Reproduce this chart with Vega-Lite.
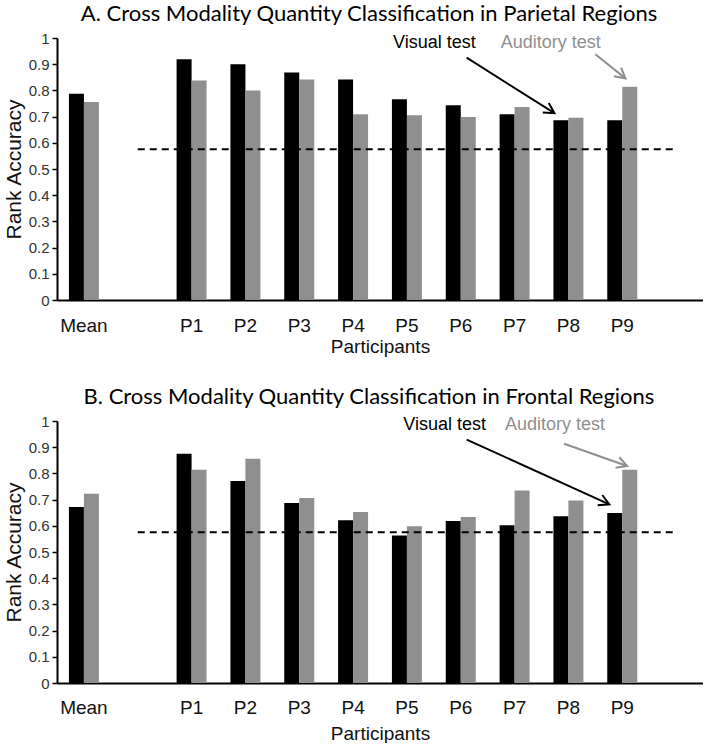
{
  "$schema": "https://vega.github.io/schema/vega-lite/v6.json",
  "background": "white",
  "padding": {"left": 3, "top": 3, "right": 0, "bottom": 0},
  "config": {
    "view": {"stroke": null},
    "axis": {"grid": false},
    "axisY": {"tickCount": 10, "format": ".1~f", "domainColor": "black", "domainWidth": 2, "tickColor": "black", "tickWidth": 1.5, "tickSize": 5, "labelFont": "Liberation Sans Narrow, Liberation Sans", "labelFontSize": 15, "labelColor": "#333", "labelPadding": 3, "titleFont": "Liberation Sans", "titleFontSize": 21, "titleFontWeight": "normal", "titleColor": "#111", "titlePadding": 4}
  },
  "spacing": 30,
  "datasets": {
    "bars": [
      {"panel": "A", "group": "Mean", "test": "Visual", "value": 0.787},
      {"panel": "A", "group": "Mean", "test": "Auditory", "value": 0.756},
      {"panel": "A", "group": "P1", "test": "Visual", "value": 0.919},
      {"panel": "A", "group": "P1", "test": "Auditory", "value": 0.838},
      {"panel": "A", "group": "P2", "test": "Visual", "value": 0.900},
      {"panel": "A", "group": "P2", "test": "Auditory", "value": 0.800},
      {"panel": "A", "group": "P3", "test": "Visual", "value": 0.868},
      {"panel": "A", "group": "P3", "test": "Auditory", "value": 0.842},
      {"panel": "A", "group": "P4", "test": "Visual", "value": 0.842},
      {"panel": "A", "group": "P4", "test": "Auditory", "value": 0.709},
      {"panel": "A", "group": "P5", "test": "Visual", "value": 0.766},
      {"panel": "A", "group": "P5", "test": "Auditory", "value": 0.705},
      {"panel": "A", "group": "P6", "test": "Visual", "value": 0.743},
      {"panel": "A", "group": "P6", "test": "Auditory", "value": 0.698},
      {"panel": "A", "group": "P7", "test": "Visual", "value": 0.709},
      {"panel": "A", "group": "P7", "test": "Auditory", "value": 0.737},
      {"panel": "A", "group": "P8", "test": "Visual", "value": 0.686},
      {"panel": "A", "group": "P8", "test": "Auditory", "value": 0.696},
      {"panel": "A", "group": "P9", "test": "Visual", "value": 0.686},
      {"panel": "A", "group": "P9", "test": "Auditory", "value": 0.814},
      {"panel": "B", "group": "Mean", "test": "Visual", "value": 0.672},
      {"panel": "B", "group": "Mean", "test": "Auditory", "value": 0.722},
      {"panel": "B", "group": "P1", "test": "Visual", "value": 0.875},
      {"panel": "B", "group": "P1", "test": "Auditory", "value": 0.814},
      {"panel": "B", "group": "P2", "test": "Visual", "value": 0.771},
      {"panel": "B", "group": "P2", "test": "Auditory", "value": 0.856},
      {"panel": "B", "group": "P3", "test": "Visual", "value": 0.687},
      {"panel": "B", "group": "P3", "test": "Auditory", "value": 0.706},
      {"panel": "B", "group": "P4", "test": "Visual", "value": 0.621},
      {"panel": "B", "group": "P4", "test": "Auditory", "value": 0.653},
      {"panel": "B", "group": "P5", "test": "Visual", "value": 0.563},
      {"panel": "B", "group": "P5", "test": "Auditory", "value": 0.598},
      {"panel": "B", "group": "P6", "test": "Visual", "value": 0.618},
      {"panel": "B", "group": "P6", "test": "Auditory", "value": 0.634},
      {"panel": "B", "group": "P7", "test": "Visual", "value": 0.602},
      {"panel": "B", "group": "P7", "test": "Auditory", "value": 0.735},
      {"panel": "B", "group": "P8", "test": "Visual", "value": 0.636},
      {"panel": "B", "group": "P8", "test": "Auditory", "value": 0.697},
      {"panel": "B", "group": "P9", "test": "Visual", "value": 0.649},
      {"panel": "B", "group": "P9", "test": "Auditory", "value": 0.814}
    ],
    "chance": [
      {"panel": "A", "xs": 1.5, "xe": 11.5, "y": 0.575},
      {"panel": "B", "xs": 1.5, "xe": 11.5, "y": 0.575}
    ],
    "labels": [
      {"panel": "A", "test": "Visual", "text": "Visual test", "x": 7.01, "y": 0.982},
      {"panel": "A", "test": "Auditory", "text": "Auditory test", "x": 9.17, "y": 0.982},
      {"panel": "B", "test": "Visual", "text": "Visual test", "x": 7.2, "y": 0.983},
      {"panel": "B", "test": "Auditory", "text": "Auditory test", "x": 9.25, "y": 0.983}
    ],
    "arrows": [
      {"panel": "A", "test": "Visual", "x": 7.61, "y": 0.925, "x2": 9.24, "y2": 0.713},
      {"panel": "A", "test": "Auditory", "x": 10.0, "y": 0.938, "x2": 10.56, "y2": 0.846},
      {"panel": "B", "test": "Visual", "x": 7.61, "y": 0.929, "x2": 10.26, "y2": 0.682},
      {"panel": "B", "test": "Auditory", "x": 9.42, "y": 0.913, "x2": 10.59, "y2": 0.828}
    ]
  },
  "vconcat": [
    {
      "width": 646,
      "height": 262,
      "title": {"text": "A. Cross Modality Quantity Classification in Parietal Regions", "font": "Lato", "fontSize": 22, "fontWeight": "normal", "color": "black", "frame": "group", "dx": -11, "offset": 5},
      "resolve": {"scale": {"x": "independent"}},
      "layer": [
        {
          "data": {"name": "bars"},
          "transform": [{"filter": "datum.panel === 'A'"}],
          "mark": {"type": "bar"},
          "encoding": {
            "x": {"field": "group", "type": "nominal", "sort": null,
              "scale": {"domain": ["Mean", "_1", "P1", "P2", "P3", "P4", "P5", "P6", "P7", "P8", "P9", "_2"], "paddingInner": 0.443, "paddingOuter": 0.2215},
              "axis": {"title": "Participants", "labelExpr": "indexof(datum.label, '_') == 0 ? '' : datum.label", "ticks": false, "labelAngle": 0, "domainColor": "black", "domainWidth": 2, "labelFont": "Liberation Sans", "labelFontSize": 19, "labelColor": "#111", "labelPadding": 16, "titleFont": "Liberation Sans", "titleFontSize": 19, "titleFontWeight": "normal", "titleColor": "#111", "titlePadding": 2}},
            "xOffset": {"field": "test", "type": "nominal", "sort": null, "scale": {"domain": ["Visual", "Auditory"], "paddingInner": 0, "paddingOuter": 0}},
            "y": {"field": "value", "type": "quantitative", "scale": {"domain": [0, 1], "nice": false}, "title": "Rank Accuracy"},
            "color": {"field": "test", "type": "nominal", "scale": {"domain": ["Visual", "Auditory"], "range": ["#000000", "#8f8f8f"]}, "legend": null}
          }
        },
        {
          "layer": [
            {
              "data": {"name": "chance"},
              "transform": [{"filter": "datum.panel === 'A'"}],
              "mark": {"type": "rule", "color": "black", "strokeWidth": 2, "strokeDash": [7, 5]},
              "encoding": {
                "x": {"field": "xs", "type": "quantitative", "scale": {"domain": [0, 12], "nice": false, "zero": false}, "axis": null},
                "x2": {"field": "xe"},
                "y": {"field": "y", "type": "quantitative", "title": "Rank Accuracy"}
              }
            },
            {
              "data": {"name": "labels"},
              "transform": [{"filter": "datum.panel === 'A'"}],
              "mark": {"type": "text", "font": "Liberation Sans", "fontSize": 18, "align": "center", "baseline": "middle"},
              "encoding": {
                "x": {"field": "x", "type": "quantitative", "scale": {"domain": [0, 12], "nice": false, "zero": false}, "axis": null},
                "y": {"field": "y", "type": "quantitative", "title": "Rank Accuracy"},
                "text": {"field": "text"},
                "color": {"field": "test", "type": "nominal", "legend": null}
              }
            },
            {
              "data": {"name": "arrows"},
              "transform": [{"filter": "datum.panel === 'A'"}],
              "mark": {"type": "rule", "strokeWidth": 2},
              "encoding": {
                "x": {"field": "x", "type": "quantitative", "scale": {"domain": [0, 12], "nice": false, "zero": false}, "axis": null},
                "y": {"field": "y", "type": "quantitative", "title": "Rank Accuracy"},
                "x2": {"field": "x2"},
                "y2": {"field": "y2"},
                "color": {"field": "test", "type": "nominal", "legend": null}
              }
            },
            {
              "data": {"name": "arrows"},
              "transform": [{"filter": "datum.panel === 'A' && datum.test === 'Visual'"}],
              "mark": {"type": "point", "shape": "M-1,-0.55L0,0L-1,0.55", "filled": false, "strokeWidth": 2, "size": 420, "angle": 32, "opacity": 1},
              "encoding": {
                "x": {"field": "x2", "type": "quantitative", "scale": {"domain": [0, 12], "nice": false, "zero": false}, "axis": null},
                "y": {"field": "y2", "type": "quantitative", "title": "Rank Accuracy"},
                "color": {"field": "test", "type": "nominal", "legend": null}
              }
            },
            {
              "data": {"name": "arrows"},
              "transform": [{"filter": "datum.panel === 'A' && datum.test === 'Auditory'"}],
              "mark": {"type": "point", "shape": "M-1,-0.55L0,0L-1,0.55", "filled": false, "strokeWidth": 2, "size": 420, "angle": 39, "opacity": 1},
              "encoding": {
                "x": {"field": "x2", "type": "quantitative", "scale": {"domain": [0, 12], "nice": false, "zero": false}, "axis": null},
                "y": {"field": "y2", "type": "quantitative", "title": "Rank Accuracy"},
                "color": {"field": "test", "type": "nominal", "legend": null}
              }
            }
          ]
        }
      ]
    },
    {
      "width": 646,
      "height": 262,
      "title": {"text": "B. Cross Modality Quantity Classification in Frontal Regions", "font": "Lato", "fontSize": 22, "fontWeight": "normal", "color": "black", "frame": "group", "dx": -11, "offset": 5},
      "resolve": {"scale": {"x": "independent"}},
      "layer": [
        {
          "data": {"name": "bars"},
          "transform": [{"filter": "datum.panel === 'B'"}],
          "mark": {"type": "bar"},
          "encoding": {
            "x": {"field": "group", "type": "nominal", "sort": null,
              "scale": {"domain": ["Mean", "_1", "P1", "P2", "P3", "P4", "P5", "P6", "P7", "P8", "P9", "_2"], "paddingInner": 0.443, "paddingOuter": 0.2215},
              "axis": {"title": "Participants", "labelExpr": "indexof(datum.label, '_') == 0 ? '' : datum.label", "ticks": false, "labelAngle": 0, "domainColor": "black", "domainWidth": 2, "labelFont": "Liberation Sans", "labelFontSize": 19, "labelColor": "#111", "labelPadding": 15, "titleFont": "Liberation Sans", "titleFontSize": 19, "titleFontWeight": "normal", "titleColor": "#111", "titlePadding": 7}},
            "xOffset": {"field": "test", "type": "nominal", "sort": null, "scale": {"domain": ["Visual", "Auditory"], "paddingInner": 0, "paddingOuter": 0}},
            "y": {"field": "value", "type": "quantitative", "scale": {"domain": [0, 1], "nice": false}, "title": "Rank Accuracy"},
            "color": {"field": "test", "type": "nominal", "scale": {"domain": ["Visual", "Auditory"], "range": ["#000000", "#8f8f8f"]}, "legend": null}
          }
        },
        {
          "layer": [
            {
              "data": {"name": "chance"},
              "transform": [{"filter": "datum.panel === 'B'"}],
              "mark": {"type": "rule", "color": "black", "strokeWidth": 2, "strokeDash": [7, 5]},
              "encoding": {
                "x": {"field": "xs", "type": "quantitative", "scale": {"domain": [0, 12], "nice": false, "zero": false}, "axis": null},
                "x2": {"field": "xe"},
                "y": {"field": "y", "type": "quantitative", "title": "Rank Accuracy"}
              }
            },
            {
              "data": {"name": "labels"},
              "transform": [{"filter": "datum.panel === 'B'"}],
              "mark": {"type": "text", "font": "Liberation Sans", "fontSize": 18, "align": "center", "baseline": "middle"},
              "encoding": {
                "x": {"field": "x", "type": "quantitative", "scale": {"domain": [0, 12], "nice": false, "zero": false}, "axis": null},
                "y": {"field": "y", "type": "quantitative", "title": "Rank Accuracy"},
                "text": {"field": "text"},
                "color": {"field": "test", "type": "nominal", "legend": null}
              }
            },
            {
              "data": {"name": "arrows"},
              "transform": [{"filter": "datum.panel === 'B'"}],
              "mark": {"type": "rule", "strokeWidth": 2},
              "encoding": {
                "x": {"field": "x", "type": "quantitative", "scale": {"domain": [0, 12], "nice": false, "zero": false}, "axis": null},
                "y": {"field": "y", "type": "quantitative", "title": "Rank Accuracy"},
                "x2": {"field": "x2"},
                "y2": {"field": "y2"},
                "color": {"field": "test", "type": "nominal", "legend": null}
              }
            },
            {
              "data": {"name": "arrows"},
              "transform": [{"filter": "datum.panel === 'B' && datum.test === 'Visual'"}],
              "mark": {"type": "point", "shape": "M-1,-0.55L0,0L-1,0.55", "filled": false, "strokeWidth": 2, "size": 420, "angle": 24, "opacity": 1},
              "encoding": {
                "x": {"field": "x2", "type": "quantitative", "scale": {"domain": [0, 12], "nice": false, "zero": false}, "axis": null},
                "y": {"field": "y2", "type": "quantitative", "title": "Rank Accuracy"},
                "color": {"field": "test", "type": "nominal", "legend": null}
              }
            },
            {
              "data": {"name": "arrows"},
              "transform": [{"filter": "datum.panel === 'B' && datum.test === 'Auditory'"}],
              "mark": {"type": "point", "shape": "M-1,-0.55L0,0L-1,0.55", "filled": false, "strokeWidth": 2, "size": 420, "angle": 20, "opacity": 1},
              "encoding": {
                "x": {"field": "x2", "type": "quantitative", "scale": {"domain": [0, 12], "nice": false, "zero": false}, "axis": null},
                "y": {"field": "y2", "type": "quantitative", "title": "Rank Accuracy"},
                "color": {"field": "test", "type": "nominal", "legend": null}
              }
            }
          ]
        }
      ]
    }
  ]
}
